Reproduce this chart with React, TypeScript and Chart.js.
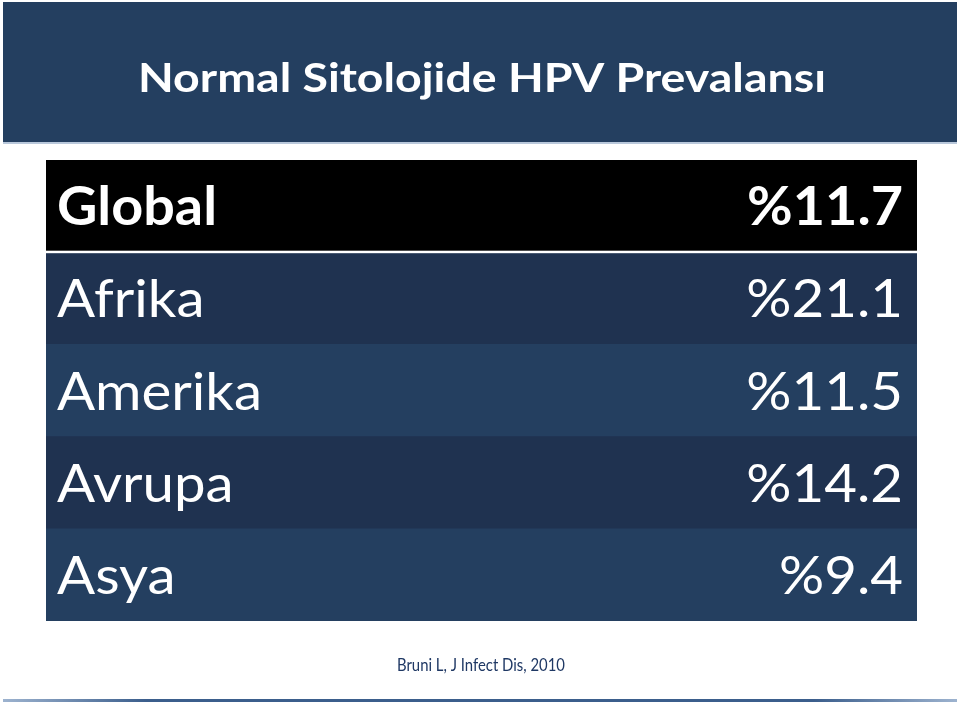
import React, { useEffect, useRef } from "react";
import { Chart, registerables } from "chart.js";

Chart.register(...registerables);

// ---- data ----
const titleText = "Normal Sitolojide HPV Prevalansı";
const categories = ["Global", "Afrika", "Amerika", "Avrupa", "Asya"];
const prevalence = [11.7, 21.1, 11.5, 14.2, 9.4];
const valueLabels = prevalence.map((v) => "%" + v.toFixed(1));
const sourceText = "Bruni L, J Infect Dis, 2010";
const rowColors = ["#000000", "#1F3250", "#243F60", "#1F3250", "#243F60"];

const FONT = "Lato, 'Open Sans', 'DejaVu Sans', sans-serif";

function fitScale(ctx: CanvasRenderingContext2D, font: string, text: string, target: number) {
  ctx.save();
  ctx.font = font;
  const w = ctx.measureText(text).width;
  ctx.restore();
  return w > 0 ? target / w : 1;
}

function drawText(
  ctx: CanvasRenderingContext2D,
  text: string,
  x: number,
  y: number,
  font: string,
  color: string,
  align: CanvasTextAlign,
  sx: number
) {
  ctx.save();
  ctx.font = font;
  ctx.fillStyle = color;
  ctx.textAlign = align;
  ctx.textBaseline = "alphabetic";
  ctx.translate(x, y);
  ctx.scale(sx, 1);
  ctx.fillText(text, 0, 0);
  ctx.restore();
}

const slidePlugin = {
  id: "slide",
  beforeDraw(chart: any) {
    const ctx: CanvasRenderingContext2D = chart.ctx;
    const W = chart.width;
    ctx.save();
    ctx.fillStyle = "#ffffff";
    ctx.fillRect(0, 0, W, chart.height);
    // banner
    ctx.fillStyle = "#243F60";
    ctx.fillRect(3, 2, 954, 140);
    ctx.fillStyle = "#B9C8DB";
    ctx.fillRect(3, 142, 954, 2);
    // bottom rule
    const g = ctx.createLinearGradient(3, 0, 957, 0);
    g.addColorStop(0, "#9DB3CF");
    g.addColorStop(0.15, "#3B5E8C");
    g.addColorStop(0.85, "#3B5E8C");
    g.addColorStop(1, "#9DB3CF");
    ctx.fillStyle = g;
    ctx.fillRect(3, 699, 954, 3);
    ctx.restore();

    const titleFont = `bold 40px ${FONT}`;
    const tsx = fitScale(ctx, titleFont, titleText, 688);
    drawText(ctx, titleText, 482, 92, titleFont, "#ffffff", "center", tsx);

    const srcFont = `17px ${FONT}`;
    const ssx = fitScale(ctx, srcFont, sourceText, 168);
    drawText(ctx, sourceText, 481, 671, srcFont, "#1F3864", "center", ssx);
  },
  afterDatasetsDraw(chart: any) {
    const ctx: CanvasRenderingContext2D = chart.ctx;
    const y = chart.scales.y;
    const area = chart.chartArea;
    // white separator under header row
    const sep = (y.getPixelForValue(0) + y.getPixelForValue(1)) / 2;
    ctx.save();
    ctx.fillStyle = "#ffffff";
    ctx.fillRect(area.left, sep - 1.5, area.right - area.left, 2.5);
    ctx.restore();

    const boldFont = `bold 53px ${FONT}`;
    const regFont = `53px ${FONT}`;
    const bsx = fitScale(ctx, boldFont, "Global", 160);
    const rsx = fitScale(ctx, regFont, "Amerika", 205);
    const capHalf = 19;
    categories.forEach((cat, i) => {
      const cy = y.getPixelForValue(i);
      const bold = i === 0;
      const font = bold ? boldFont : regFont;
      const sx = bold ? bsx : rsx;
      drawText(ctx, cat, area.left + 11, cy + capHalf, font, "#ffffff", "left", sx);
      drawText(ctx, valueLabels[i], area.right - 14, cy + capHalf, font, "#ffffff", "right", sx);
    });
  },
};

export default function App() {
  const canvasRef = useRef<HTMLCanvasElement | null>(null);

  useEffect(() => {
    const canvas = canvasRef.current;
    if (!canvas) return;
    const chart = new Chart(canvas, {
      type: "bar",
      data: {
        labels: categories,
        datasets: [
          {
            label: "HPV",
            data: categories.map(() => [0, 1]) as any,
            backgroundColor: rowColors,
            borderWidth: 0,
            barPercentage: 1,
            categoryPercentage: 1,
          },
        ],
      },
      options: {
        indexAxis: "y",
        responsive: false,
        animation: false,
        devicePixelRatio: 1,
        layout: { padding: { left: 46, right: 43, top: 160, bottom: 82 } },
        scales: {
          x: { display: false, min: 0, max: 1 },
          y: { display: false, offset: true },
        },
        plugins: {
          legend: { display: false },
          tooltip: { enabled: false },
          title: { display: false },
        },
      },
      plugins: [slidePlugin],
    });
    const fonts = (document as any).fonts;
    if (fonts && fonts.load) {
      Promise.all([
        fonts.load(`bold 40px Lato`),
        fonts.load(`53px Lato`),
      ])
        .then(() => chart.update())
        .catch(() => {});
    }
    return () => chart.destroy();
  }, []);

  return (
    <div style={{ position: "fixed", left: 0, top: 0, width: 960, height: 703 }}>
      <canvas ref={canvasRef} width={960} height={703} style={{ display: "block", width: 960, height: 703 }} />
    </div>
  );
}
